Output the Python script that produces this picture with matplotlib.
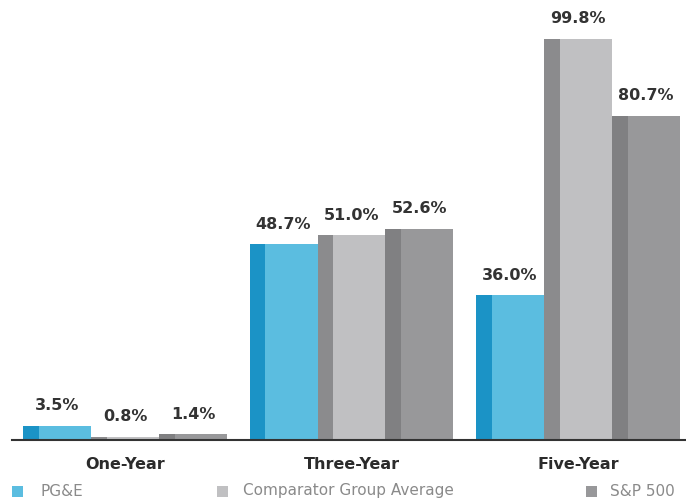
import matplotlib
matplotlib.use("Agg")
import matplotlib.pyplot as plt
import numpy as np
from matplotlib.patches import Rectangle

periods = ["One-Year", "Three-Year", "Five-Year"]
series = ["PG&E", "Comparator Group Average", "S&P 500"]
pge = [3.5, 48.7, 36.0]
comparator = [0.8, 51.0, 99.8]
sp500 = [1.4, 52.6, 80.7]

main_colors = ["#5bbde0", "#c0c0c2", "#98989a"]
dark_colors = ["#1b93c6", "#8b8b8d", "#808082"]

W, H = 686, 501
fig = plt.figure(figsize=(W / 100, H / 100), dpi=100)
# baseline at y=440px, axis line from x=12 to right edge
ax = fig.add_axes([12 / W, (H - 440) / H, 1 - 12 / W, 440 / H])

width = 0.30
strip = 0.07
x = np.arange(len(periods))
for i, vals in enumerate([pge, comparator, sp500]):
    pos = x + (i - 1) * width
    ax.bar(pos, vals, width=width, color=main_colors[i], linewidth=0)
    ax.bar(pos - width / 2, vals, width=strip, align="edge",
           color=dark_colors[i], linewidth=0)
    for p, v in zip(pos, vals):
        ax.annotate(f"{v:.1f}%", (p, v), xytext=(0, 9), textcoords="offset points",
                    ha="center", va="bottom", fontsize=11.5, fontweight="bold",
                    color="#333333")

ax.set_xlim(-0.499, 2.477)
ax.set_ylim(0, 109.5)
ax.set_xticks(x)
ax.set_xticklabels(periods, fontsize=11.5, fontweight="bold", color="#2b2b2b")
ax.tick_params(axis="x", length=0, pad=12)
ax.set_yticks([])
for s in ["top", "right", "left"]:
    ax.spines[s].set_visible(False)
ax.spines["bottom"].set_color("#333333")
ax.spines["bottom"].set_linewidth(1.5)

# legend along the bottom edge
legend_pos = [(12, 40), (217, 243), (586, 610)]
for (mx, tx), name, c in zip(legend_pos, series, main_colors):
    fig.add_artist(Rectangle((mx / W, (H - 497) / H), 11 / W, 11 / H,
                             transform=fig.transFigure, color=c, linewidth=0))
    fig.text(tx / W, (H - 491) / H, name, fontsize=11, color="#8a8a8a",
             ha="left", va="center")

fig.savefig("out.png", dpi=100)
